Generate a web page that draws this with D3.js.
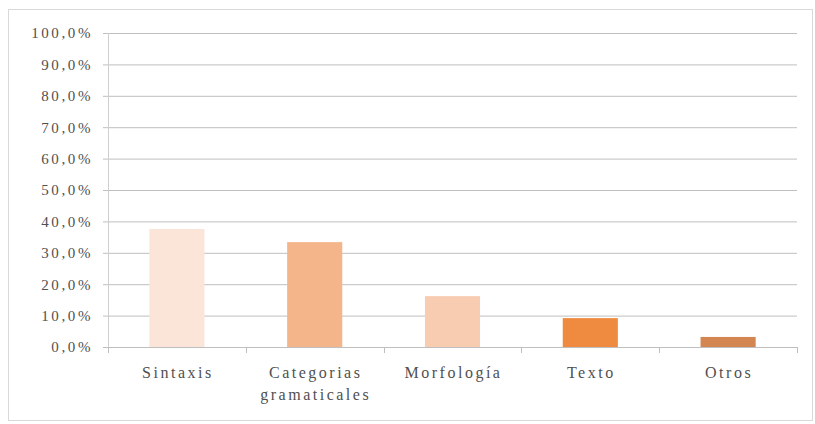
<!DOCTYPE html>
<html>
<head>
<meta charset="utf-8">
<script src="https://cdn.jsdelivr.net/npm/d3@7"></script>
<style>
  html, body { margin: 0; padding: 0; background: #ffffff; }
  svg { display: block; }
  .lbl { font-family: "Liberation Serif", "DejaVu Serif", serif; fill: #505050; }
</style>
</head>
<body>
<svg id="chart" width="815" height="424"></svg>
<script>
// Share of errors by linguistic area
const categories = ["Sintaxis", "Categorias gramaticales", "Morfología", "Texto", "Otros"];
const labelLines = [["Sintaxis"], ["Categorias", "gramaticales"], ["Morfología"], ["Texto"], ["Otros"]];
const values = [37.6, 33.4, 16.2, 9.2, 3.2];
const barColors = ["#fbe4d8", "#f4b58b", "#f7ccb1", "#ef8b40", "#d38652"];
const yTicks = [0, 10, 20, 30, 40, 50, 60, 70, 80, 90, 100];

const svg = d3.select("#chart");
const margin = { left: 108, right: 18, top: 33, bottom: 77 };
const W = 815, H = 424;

// outer frame
svg.append("rect")
  .attr("x", 8.5).attr("y", 9.5)
  .attr("width", 804).attr("height", 411)
  .attr("fill", "#ffffff")
  .attr("stroke", "#d9d9d9").attr("stroke-width", 1);

const x = d3.scaleBand()
  .domain(categories)
  .range([margin.left, W - margin.right])
  .paddingInner(0.6).paddingOuter(0.3);

const y = d3.scaleLinear()
  .domain([0, 100])
  .range([H - margin.bottom, margin.top]);

const fmt = d => d3.format(".1f")(d).replace(".", ",") + "%";

// horizontal gridlines with short ticks to the left of the axis
const gy = svg.append("g")
  .attr("transform", `translate(${margin.left},0)`)
  .call(d3.axisLeft(y).tickValues(yTicks).tickFormat(fmt)
    .tickSize(-(W - margin.right - margin.left)).tickPadding(15));
gy.attr("font-family", null).attr("font-size", null);
gy.select(".domain").remove();
gy.selectAll(".tick line")
  .attr("x1", -5)
  .attr("stroke", "#bfbfbf").attr("stroke-width", 1);
gy.selectAll(".tick text")
  .attr("class", "lbl")
  .attr("fill", null)
  .style("font-size", "15px")
  .style("letter-spacing", "2.6px");

// vertical axis line
svg.append("line")
  .attr("x1", margin.left + 0.5).attr("x2", margin.left + 0.5)
  .attr("y1", y(100)).attr("y2", y(0))
  .attr("stroke", "#d0d0d0").attr("stroke-width", 1);

// bars
svg.append("g").selectAll("rect")
  .data(categories)
  .join("rect")
  .attr("x", d => x(d))
  .attr("width", x.bandwidth())
  .attr("y", (d, i) => y(values[i]))
  .attr("height", (d, i) => y(0) - y(values[i]))
  .attr("fill", (d, i) => barColors[i]);

// category axis
const bounds = d3.range(categories.length + 1)
  .map(i => margin.left + i * x.step());
const gx = svg.append("g");
gx.append("line")
  .attr("x1", margin.left - 5).attr("x2", W - margin.right)
  .attr("y1", y(0) + 0.5).attr("y2", y(0) + 0.5)
  .attr("stroke", "#bfbfbf");
gx.selectAll("line.tk")
  .data(bounds)
  .join("line").attr("class", "tk")
  .attr("x1", d => Math.round(d) + 0.5).attr("x2", d => Math.round(d) + 0.5)
  .attr("y1", y(0)).attr("y2", y(0) + 6)
  .attr("stroke", "#bfbfbf");

gx.selectAll("text")
  .data(categories)
  .join("text")
  .attr("class", "lbl")
  .attr("x", d => x(d) + x.bandwidth() / 2 + 1)
  .attr("y", y(0) + 31)
  .attr("text-anchor", "middle")
  .style("font-size", "16px")
  .style("letter-spacing", "2.5px")
  .each(function (d, i) {
    d3.select(this).selectAll("tspan")
      .data(labelLines[i])
      .join("tspan")
      .attr("x", x(d) + x.bandwidth() / 2 + 1)
      .attr("dy", (t, j) => j === 0 ? 0 : 22)
      .text(t => t);
  });
</script>
</body>
</html>
